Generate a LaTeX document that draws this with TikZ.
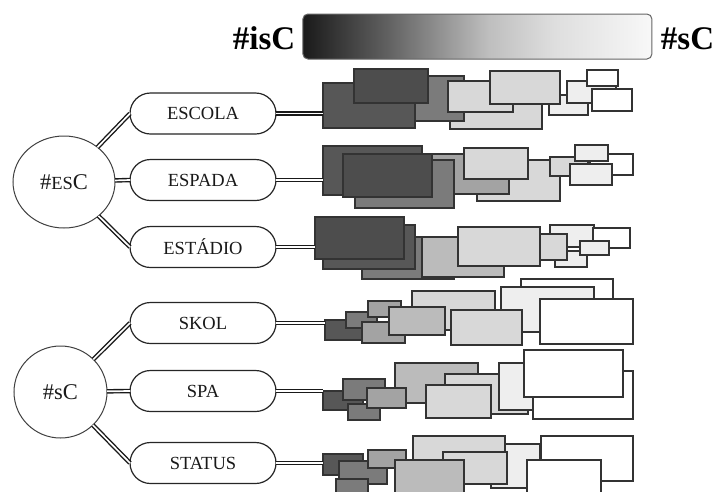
\documentclass[tikz,border=0pt]{standalone}
\usepackage{fontspec}
\setmainfont{Liberation Serif}
\usetikzlibrary{shapes.geometric,shapes.misc}
\definecolor{c1}{HTML}{4D4D4D}
\definecolor{c2}{HTML}{575757}
\definecolor{c3}{HTML}{7B7B7B}
\definecolor{c4}{HTML}{A3A3A3}
\definecolor{c5}{HTML}{BBBBBB}
\definecolor{c6}{HTML}{D8D8D8}
\definecolor{c7}{HTML}{EEEEEE}
\definecolor{bar0}{HTML}{1A1A1A}
\definecolor{bar1}{HTML}{606060}
\definecolor{bar2}{HTML}{BEBEBE}
\definecolor{bar3}{HTML}{DEDEDE}
\definecolor{bar4}{HTML}{F8F8F8}
\pgfdeclarehorizontalshading{barshade}{100bp}{color(0bp)=(bar0); color(25bp)=(bar0); color(37bp)=(bar1); color(51.5bp)=(bar2); color(61bp)=(bar3); color(75bp)=(bar4); color(100bp)=(bar4)}
\newcommand\bx[6]{\node[bx, fill=#6, minimum width={(#4)-(#2)}, minimum height={(#5)-(#3)}] (#1) at ({((#2)+(#4))/2},{((#3)+(#5))/2}) {};}
\begin{document}
\begin{tikzpicture}[x=1pt,y=-1pt,
  bx/.style={draw=black!80, line width=1.2pt, inner sep=0pt, outer sep=0pt},
  pill/.style={rounded rectangle, draw=black!85, fill=white, line width=1.2pt, minimum width=146pt, minimum height=41pt, inner sep=0pt, outer sep=0pt, font=\fontsize{18.5}{20}\selectfont, text=black!90},
  hub/.style={ellipse, draw=black!75, fill=white, line width=1pt, inner sep=0pt, outer sep=0pt, text=black!90},
  link/.style={double=white, draw=black!90, line width=1.4pt, double distance=1.7pt},
  title/.style={font=\fontsize{33}{36}\selectfont\bfseries, anchor=base, inner sep=0pt}]
\useasboundingbox (0,0) rectangle (720,491);
\clip (0,0) rectangle (720,491);

% gradient bar and titles
\node[shade, shading=barshade, draw=black!60, line width=1pt, rounded corners=5pt, minimum width=349pt, minimum height=45pt, inner sep=0pt] (bar) at (477.4,36.5) {};
\node[title] (isc) at (264,49.5) {\#isC};
\node[title] (sc) at (687.5,49.5) {\#sC};

% hubs
\node[hub, minimum width=102pt, minimum height=92pt] (hubE) at (64,182) {\fontsize{22.5}{26}\selectfont\#{\fontsize{18.5}{22}\selectfont ES}C};
\node[hub, minimum width=93pt, minimum height=92pt] (hubS) at (60.5,392) {\fontsize{22.5}{26}\selectfont\#sC};

% pills
\node[pill] (escola) at (203,113.5) {ESCOLA};
\node[pill] (espada) at (203,180) {ESPADA};
\node[pill] (estadio) at (203,247) {ESTÁDIO};
\node[pill] (skol) at (203,323) {SKOL};
\node[pill] (spa) at (203,391) {SPA};
\node[pill] (status) at (203,463) {STATUS};

% row 1
\bx{r1d}{450}{100}{542}{129}{c6}
\bx{r1c}{400}{76}{464}{121}{c3}
\bx{r1a}{323}{83}{415}{128}{c2}
\bx{r1b}{354}{69}{428}{103}{c1}
\bx{r1e}{448}{81}{513}{112}{c6}
\bx{r1g}{549}{95}{588}{115}{c7}
\bx{r1f}{490}{71}{560}{104}{c6}
\bx{r1h}{567}{81}{616}{103}{c7}
\bx{r1j}{592}{89}{632}{111}{white}
\bx{r1i}{587}{70}{618}{86}{white}

% row 2
\bx{r2f}{477}{160}{560}{201}{c6}
\bx{r2d}{432}{154}{509}{194}{c4}
\bx{r2a}{323}{146}{422}{195}{c2}
\bx{r2c}{355}{160}{454}{208}{c3}
\bx{r2b}{343}{154}{432}{197}{c1}
\bx{r2e}{464}{148}{528}{179}{c6}
\bx{r2g}{550}{157}{588}{176}{c6}
\bx{r2h}{590}{154}{633}{175}{white}
\bx{r2j}{570}{164}{612}{185}{c7}
\bx{r2i}{575}{145}{608}{161}{c7}

% row 3
\bx{r3c}{362}{237}{454}{279}{c3}
\bx{r3b}{323}{225}{415}{269}{c2}
\bx{r3a}{315}{217}{404}{259}{c1}
\bx{r3d}{422}{237}{504}{277}{c5}
\bx{r3e}{458}{227}{540}{266}{c6}
\bx{r3j}{555}{251}{587}{267}{c7}
\bx{r3g}{550}{225}{594}{247}{c7}
\bx{r3h}{593}{228}{630}{248}{white}
\bx{r3i}{580}{241}{609}{255}{c7}
\bx{r3f}{540}{234}{567}{260}{c6}

% row 4
\bx{r4f}{412}{291}{495}{330}{c6}
\bx{r4a}{325}{320}{365}{340}{c2}
\bx{r4b}{346}{312}{377}{328}{c3}
\bx{r4c}{368}{301}{401}{317}{c4}
\bx{r4d}{362}{322}{405}{343}{c4}
\bx{r4e}{389}{307}{445}{335}{c5}
\bx{r4i}{521}{279}{613}{310}{white}
\bx{r4h}{501}{287}{594}{332}{c7}
\bx{r4g}{451}{310}{522}{345}{c6}
\bx{r4j}{540}{299}{633}{344}{white}

% row 5
\bx{r5a}{323}{391}{363}{410}{c2}
\bx{r5b}{343}{379}{385}{400}{c3}
\bx{r5c}{348}{404}{380}{420}{c3}
\bx{r5e}{395}{363}{478}{403}{c5}
\bx{r5d}{367}{388}{406}{408}{c4}
\bx{r5f}{445}{374}{528}{414}{c6}
\bx{r5g}{426}{385}{491}{418}{c6}
\bx{r5h}{499}{363}{533}{410}{c7}
\bx{r5j}{533}{371}{633}{419}{white}
\bx{r5i}{524}{350}{623}{397}{white}

% row 6
\bx{r6h}{491}{444}{540}{488}{c7}
\bx{r6e}{413}{436}{505}{480}{c6}
\bx{r6f}{443}{452}{507}{484}{c6}
\bx{r6a}{323}{454}{363}{475}{c2}
\bx{r6b}{339}{461}{387}{484}{c3}
\bx{r6c}{336}{479}{368}{495}{c3}
\bx{r6d}{368}{450}{406}{468}{c4}
\bx{r6g}{395}{460}{464}{495}{c5}
\bx{r6i}{541}{436}{633}{481}{white}
\bx{r6j}{527}{460}{601}{495}{white}

% connectors hub -> pills
\draw[link] (hubE) -- (escola.west);
\draw[link] (hubE) -- (espada.west);
\draw[link] (hubE) -- (estadio.west);
\draw[link] (hubS) -- (skol.west);
\draw[link] (hubS) -- (spa.west);
\draw[link] (hubS) -- (status.west);

% connectors pills -> clusters
\draw[link] (escola.east) -- (escola.east -| r1a.west);
\draw[link] (espada.east) -- (espada.east -| r2a.west);
\draw[link] (estadio.east) -- (estadio.east -| r3a.west);
\draw[link] (skol.east) -- (skol.east -| r4a.west);
\draw[link] (spa.east) -- (spa.east -| r5a.west);
\draw[link] (status.east) -- (status.east -| r6a.west);
\end{tikzpicture}
\end{document}
